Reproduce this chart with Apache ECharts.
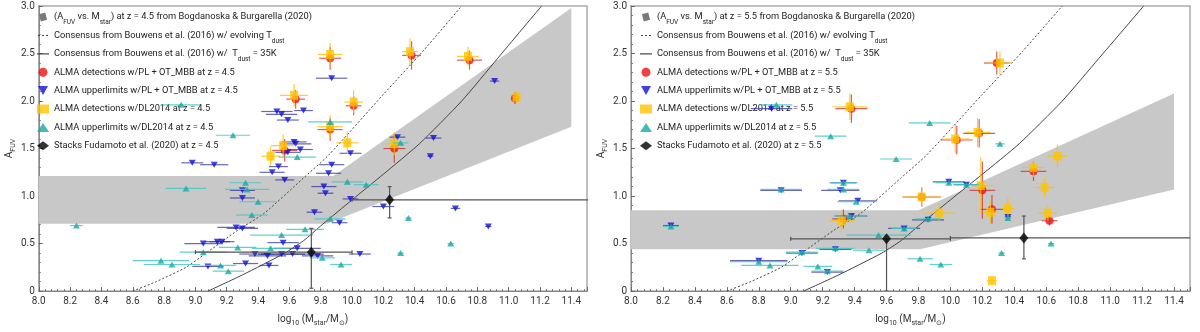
<!DOCTYPE html>
<html>
<head>
<meta charset="utf-8">
<script src="https://cdn.jsdelivr.net/npm/echarts@6/dist/echarts.min.js"></script>
<style>
html, body { margin: 0; padding: 0; background: #fff; }
#chart { width: 1200px; height: 332px; }
</style>
</head>
<body>
<div id="chart"></div>
<script>
// values
// detections: [log Mstar, A_FUV, xerr, yerr]; upper limits: [log Mstar, A_FUV, xerr]
const redL = [[9.57,1.48,0.08,0.12],[9.64,2.02,0.06,0.10],[9.86,2.45,0.07,0.12],[9.86,1.70,0.08,0.12],
  [10.01,1.95,0.05,0.10],[10.27,1.50,0.07,0.15],[10.38,2.48,0.06,0.15],[10.75,2.43,0.08,0.10],[11.04,2.03,0.02,0.06]]
const blueL = [[8.98,1.35,0.07],[9.12,1.33,0.09],[9.05,0.50,0.12],[9.14,0.52,0.08],[9.17,0.52,0.08],[9.08,0.26,0.10],
  [9.26,0.67,0.12],[9.30,0.66,0.10],[9.30,1.06,0.08],[9.30,0.98,0.08],[9.32,0.29,0.08],[9.38,0.39,0.10],
  [9.46,0.37,0.12],[9.47,0.27,0.06],[9.49,1.25,0.08],[9.53,1.31,0.06],[9.52,1.89,0.10],[9.55,1.86,0.10],
  [9.56,0.51,0.10],[9.57,1.17,0.06],[9.55,0.39,0.15],[9.59,1.80,0.07],[9.59,1.46,0.08],[9.62,0.39,0.20],
  [9.63,1.57,0.08],[9.64,1.55,0.10],[9.65,0.45,0.15],[9.67,1.49,0.08],[9.69,1.90,0.06],[9.76,0.83,0.05],
  [9.78,0.37,0.10],[9.82,1.10,0.08],[9.83,1.03,0.05],[9.85,1.24,0.08],[9.87,1.33,0.08],[9.87,2.24,0.10],
  [9.92,0.72,0.05],[9.99,1.45,0.07],[9.99,0.97,0.05],[10.05,0.39,0.07],[10.20,0.89,0.07],[10.29,1.62,0.05],
  [10.50,1.42,0.02],[10.52,1.61,0.05],[10.66,0.87,0.03],[10.87,0.68,0.02],[10.91,2.21,0.03]]
const yellowL = [[9.48,1.42,0.06,0.10],[9.56,1.53,0.08,0.12],[9.63,2.06,0.09,0.12],[9.86,2.49,0.08,0.12],
  [9.86,1.73,0.08,0.12],[9.97,1.56,0.07,0.12],[10.01,1.99,0.06,0.12],[10.27,1.55,0.06,0.12],[10.37,2.52,0.05,0.14],
  [10.74,2.47,0.07,0.10],[11.05,2.04,0.02,0.06]]
const cyanL = [[8.24,0.69,0.04],[8.78,0.32,0.18],[8.85,0.28,0.18],[8.91,1.96,0.12],[8.94,1.08,0.13],[9.05,0.41,0.15],
  [9.16,0.27,0.10],[9.21,0.21,0.10],[9.24,1.64,0.11],[9.27,0.46,0.12],[9.32,1.14,0.10],[9.33,1.07,0.14],
  [9.36,0.80,0.10],[9.40,0.94,0.12],[9.48,0.45,0.12],[9.55,0.59,0.20],[9.65,1.41,0.12],[9.70,0.65,0.12],
  [9.81,0.35,0.08],[9.86,1.78,0.14],[9.86,0.76,0.10],[9.93,0.28,0.07],[9.97,1.15,0.10],[10.09,1.12,0.08],
  [10.31,1.56,0.05],[10.31,0.40,0.02],[10.36,0.77,0.02],[10.63,0.50,0.02]]
// stacks: [x, y, xlo, xhi, ylo, yhi]
const stackL = [[9.74,0.41,9.0,10.0,0.03,0.66],[10.24,0.96,10.0,11.7,0.77,1.10]]

const redR = [[9.38,1.92,0.10,0.15],[10.29,2.40,0.08,0.12],[10.04,1.59,0.10,0.15],[10.18,1.66,0.10,0.15],
  [10.52,1.26,0.08,0.10],[10.20,1.06,0.08,0.30],[10.26,0.86,0.07,0.15],[10.62,0.74,0.05,0.05],
  [9.33,0.76,0.07,0.10],[9.82,0.99,0.12,0.10]]
const blueR = [[8.25,0.69,0.05],[8.80,0.32,0.18],[8.88,1.92,0.13],[8.94,1.06,0.13],[9.07,0.40,0.10],[9.23,0.20,0.10],
  [9.31,1.06,0.12],[9.38,0.79,0.10],[9.42,0.95,0.12],[9.28,0.44,0.10],[9.71,0.66,0.10],[9.86,0.75,0.10],
  [9.99,1.15,0.10],[10.10,1.12,0.08],[10.36,0.78,0.02],[9.33,1.14,0.08]]
const yellowR = [[9.37,1.94,0.11,0.14],[9.32,0.74,0.08,0.10],[9.82,0.99,0.12,0.10],[9.93,0.82,0.10,0.10],
  [10.03,1.60,0.09,0.15],[10.17,1.67,0.08,0.15],[10.19,1.11,0.08,0.30],[10.25,0.83,0.05,0.12],[10.26,0.11,0.03,0.04],
  [10.31,2.40,0.07,0.12],[10.36,0.87,0.04,0.12],[10.52,1.30,0.07,0.10],[10.59,1.09,0.06,0.10],[10.61,0.82,0.06,0.08],
  [10.67,1.42,0.06,0.12]]
const cyanR = [[8.25,0.68,0.05],[8.80,0.31,0.18],[8.87,0.27,0.18],[8.91,1.96,0.10],[8.94,1.07,0.13],[9.07,0.41,0.10],
  [9.17,0.26,0.09],[9.23,0.21,0.10],[9.25,1.63,0.10],[9.28,0.45,0.12],[9.33,1.14,0.09],[9.33,1.07,0.10],
  [9.37,0.79,0.10],[9.41,0.94,0.12],[9.49,0.43,0.10],[9.55,0.59,0.20],[9.66,1.39,0.10],[9.71,0.66,0.08],
  [9.81,0.34,0.08],[9.86,0.76,0.08],[9.87,1.77,0.13],[9.94,0.28,0.07],[9.99,1.14,0.08],[10.10,1.12,0.08],
  [10.31,1.55,0.03],[10.32,0.40,0.02],[10.36,0.77,0.02],[10.63,0.50,0.02]]
const stackR = [[9.60,0.55,9.0,10.0,0.0,0.55],[10.46,0.56,10.0,11.7,0.34,0.79]]

// Bogdanoska & Burgarella region (polygon corners)
const bandL = [[8.0,1.21],[9.88,1.21],[11.4,2.98],[11.4,1.73],[9.84,0.71],[8.0,0.71]]
const bandR = [[8.0,0.85],[9.80,0.85],[11.4,2.08],[11.4,1.07],[9.81,0.44],[8.0,0.44]]

// Bouwens et al. (2016) consensus curves
const evolvingT = [[8.60,0],[8.75,0.10],[8.94,0.25],[9.06,0.39],[9.27,0.64],[9.44,0.82],[9.69,1.19],
  [9.85,1.43],[10.2,2.07],[10.45,2.52],[10.70,3.0]]
const fixedT = [[9.08,0],[9.30,0.17],[9.57,0.40],[9.69,0.53],[9.81,0.70],[10.0,0.96],[10.2,1.23],
  [10.43,1.55],[10.70,2.0],[10.93,2.45],[11.21,3.0]]

const xTicks = [8.0, 11.5]
const yTicks = [0, 3.0]

const F = 'Roboto, "Liberation Sans", sans-serif'
const downTri = 'path://M0,0L10,0L5,9Z'
// legend icons for the two curves (the M0,0 M0,9 moves only set the icon box)
const dotIcon = 'path://M0,0M0,9M0,4h2v1.2h-2zM4,4h2v1.2h-2zM8,4h2v1.2h-2z'
const solIcon = 'path://M0,0M0,9M0,4h12v1.2h-12z'

function sub (s) {
  return s.replace('A_FUV', 'A{s|FUV}').replace('M_star', 'M{s|star}').replace('T_dust', 'T{s|dust}')
}

function errRender (color, w) {
  return function (params, api) {
    const x = api.value(0), y = api.value(1), xe = api.value(2), ye = api.value(3)
    const kids = []
    if (xe > 0) {
      const a = api.coord([x - xe, y]), b = api.coord([x + xe, y])
      kids.push({ type: 'line', shape: { x1: a[0], y1: a[1], x2: b[0], y2: b[1] }, style: { stroke: color, lineWidth: w } })
    }
    if (ye > 0) {
      const a = api.coord([x, y - ye]), b = api.coord([x, y + ye])
      kids.push({ type: 'line', shape: { x1: a[0], y1: a[1], x2: b[0], y2: b[1] }, style: { stroke: color, lineWidth: w } })
    }
    return { type: 'group', children: kids }
  }
}

function stackRender (params, api) {
  const x = api.value(0), y = api.value(1)
  const a = api.coord([api.value(2), y]), b = api.coord([api.value(3), y])
  const c = api.coord([x, api.value(4)]), d = api.coord([x, api.value(5)])
  const st = { stroke: '#555', lineWidth: 1.2 }
  return {
    type: 'group',
    children: [
      { type: 'line', shape: { x1: a[0], y1: a[1], x2: b[0], y2: b[1] }, style: st },
      { type: 'line', shape: { x1: c[0], y1: c[1], x2: d[0], y2: d[1] }, style: st },
      { type: 'line', shape: { x1: a[0], y1: a[1] - 2, x2: a[0], y2: a[1] + 2 }, style: st },
      { type: 'line', shape: { x1: b[0], y1: b[1] - 2, x2: b[0], y2: b[1] + 2 }, style: st },
      { type: 'line', shape: { x1: c[0] - 2, y1: c[1], x2: c[0] + 2, y2: c[1] }, style: st },
      { type: 'line', shape: { x1: d[0] - 2, y1: d[1], x2: d[0] + 2, y2: d[1] }, style: st }
    ]
  }
}

function bandRender (poly) {
  return function (params, api) {
    if (params.dataIndex !== 0) return
    return { type: 'polygon', shape: { points: poly.map(p => api.coord(p)) }, style: { fill: '#c8c8c8' } }
  }
}

const names = z => ({
  bb: '(A_FUV vs. M_star) at z = ' + z + ' from Bogdanoska & Burgarella (2020)',
  dot: 'Consensus from Bouwens et al. (2016) w/ evolving T_dust',
  sol: 'Consensus from Bouwens et al. (2016) w/  T_dust = 35K',
  red: 'ALMA detections w/PL + OT_MBB at z = ' + z,
  blue: 'ALMA upperlimits w/PL + OT_MBB at z = ' + z,
  yel: 'ALMA detections w/DL2014 at z = ' + z,
  cyan: 'ALMA upperlimits w/DL2014 at z = ' + z,
  stk: 'Stacks Fudamoto et al. (2020) at z = ' + z
})

function panelSeries (i, z, band, red, blue, yel, cyan, stk) {
  const n = names(z)
  const ax = { xAxisIndex: i, yAxisIndex: i }
  return [
    { ...ax, type: 'custom', name: n.bb, renderItem: bandRender(band), data: band, z: 1, silent: true,
      itemStyle: { color: '#7a7a7a' } },
    { ...ax, type: 'line', name: n.dot, data: evolvingT, smooth: 0.2, symbol: 'none', z: 2,
      lineStyle: { color: '#444', width: 1, type: [2, 2] }, itemStyle: { color: '#444' } },
    { ...ax, type: 'line', name: n.sol, data: fixedT, smooth: 0.2, symbol: 'none', z: 2,
      lineStyle: { color: '#444', width: 1 }, itemStyle: { color: '#444' } },
    { ...ax, type: 'custom', name: 'redErr' + i, renderItem: errRender('rgba(205,40,40,0.75)', 1.2), data: red, z: 3,
      dimensions: ['x', 'y', 'xe', 'ye'], encode: { x: 0, y: 1 }, clip: true },
    { ...ax, type: 'scatter', name: n.red, data: red, symbol: 'circle', symbolSize: 8, z: 4,
      itemStyle: { color: '#ee1111' } },
    { ...ax, type: 'custom', name: 'blueErr' + i, renderItem: errRender('rgba(40,40,150,0.7)', 1.2), data: blue, z: 5,
      dimensions: ['x', 'y', 'xe', 'ye'], encode: { x: 0, y: 1 }, clip: true },
    { ...ax, type: 'scatter', name: n.blue, data: blue, symbol: downTri, symbolSize: [7, 6], z: 6,
      itemStyle: { color: '#1010d8' } },
    { ...ax, type: 'custom', name: 'yelErr' + i, renderItem: errRender('rgba(255,190,0,0.8)', 1.2), data: yel, z: 7,
      dimensions: ['x', 'y', 'xe', 'ye'], encode: { x: 0, y: 1 }, clip: true },
    { ...ax, type: 'scatter', name: n.yel, data: yel, symbol: 'rect', symbolSize: [8, 9], z: 8,
      itemStyle: { color: '#ffc400' } },
    { ...ax, type: 'custom', name: 'cyanErr' + i, renderItem: errRender('rgba(70,200,195,0.85)', 1.2), data: cyan, z: 9,
      dimensions: ['x', 'y', 'xe', 'ye'], encode: { x: 0, y: 1 }, clip: true },
    { ...ax, type: 'scatter', name: n.cyan, data: cyan, symbol: 'triangle', symbolSize: [7, 6], z: 10,
      itemStyle: { color: '#16aaa5' } },
    { ...ax, type: 'custom', name: 'stkErr' + i, renderItem: stackRender, data: stk, z: 11, clip: true,
      encode: { x: 0, y: 1 } },
    { ...ax, type: 'scatter', name: n.stk, data: stk.map(s => [s[0], s[1]]), symbol: 'diamond', symbolSize: [9, 11], z: 12,
      itemStyle: { color: '#000' } }
  ]
}

function legendFor (i, z) {
  const n = names(z)
  return {
    orient: 'vertical', left: i === 0 ? 32 : 635, top: 3, itemGap: 0.4, itemWidth: 12, itemHeight: 9,
    selectedMode: false,
    data: [
      { name: n.bb, icon: 'path://M1,2L8,0L10,8L3,10Z' },
      { name: n.dot, icon: dotIcon, itemStyle: { color: '#444' } },
      { name: n.sol, icon: solIcon, itemStyle: { color: '#444' } },
      { name: n.red, icon: 'circle' },
      { name: n.blue, icon: downTri },
      { name: n.yel, icon: 'rect' },
      { name: n.cyan, icon: 'triangle' },
      { name: n.stk, icon: 'diamond' }
    ],
    formatter: sub,
    textStyle: { fontFamily: F, fontSize: 9.3, color: '#222', lineHeight: 18,
      rich: { s: { fontFamily: F, fontSize: 6.5, verticalAlign: 'bottom', lineHeight: 12, color: '#222' } } }
  }
}

const lab = { fontFamily: F, fontSize: 10, color: '#333' }
const nameStyle = { fontFamily: F, fontSize: 10, color: '#333', lineHeight: 16,
  rich: { s: { fontFamily: F, fontSize: 7, verticalAlign: 'bottom', lineHeight: 11, color: '#333' } } }
function xAx (i) {
  return {
    gridIndex: i, type: 'value', min: xTicks[0], max: xTicks[1], interval: 0.2,
    name: 'log{s|10} (M{s|star}/M{s|⊙})', nameLocation: 'middle', nameGap: 19,
    nameTextStyle: nameStyle,
    axisLine: { lineStyle: { color: '#888' } },
    axisTick: { inside: true, length: 4, lineStyle: { color: '#666' } },
    minorTick: { show: true, splitNumber: 5, length: 2, lineStyle: { color: '#777' } },
    axisLabel: { ...lab, margin: 5, showMaxLabel: false, formatter: v => v.toFixed(1) },
    splitLine: { show: false }
  }
}
function yAx (i) {
  return {
    gridIndex: i, type: 'value', min: yTicks[0], max: yTicks[1], interval: 0.5,
    name: 'A{s|FUV}', nameLocation: 'middle', nameGap: 18,
    nameTextStyle: nameStyle,
    axisLine: { lineStyle: { color: '#888' } },
    axisTick: { inside: true, length: 4, lineStyle: { color: '#666' } },
    minorTick: { show: true, splitNumber: 5, length: 2, lineStyle: { color: '#777' } },
    axisLabel: { ...lab, margin: 4, formatter: v => v === 0 ? '0' : v.toFixed(1) },
    splitLine: { show: false }
  }
}

const chart = echarts.init(document.getElementById('chart'), null, { renderer: 'canvas' })
chart.setOption({
  animation: false,
  backgroundColor: '#fff',
  grid: [
    { left: 31, top: 6, width: 556, height: 292, show: true, borderColor: '#aaa', borderWidth: 1.5 },
    { left: 631, top: 6, width: 559, height: 292, show: true, borderColor: '#aaa', borderWidth: 1.5 }
  ],
  legend: [legendFor(0, 4.5), legendFor(1, 5.5)],
  xAxis: [xAx(0), xAx(1)],
  yAxis: [yAx(0), yAx(1)],
  series: [
    ...panelSeries(0, 4.5, bandL, redL, blueL, yellowL, cyanL, stackL),
    ...panelSeries(1, 5.5, bandR, redR, blueR, yellowR, cyanR, stackR)
  ]
})
</script>
</body>
</html>
